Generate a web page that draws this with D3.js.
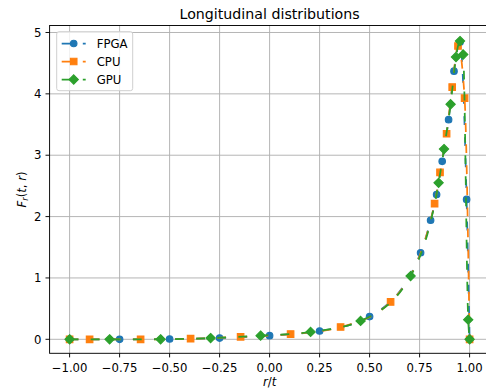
<!DOCTYPE html>
<html>
<head>
<meta charset="utf-8">
<script src="https://cdn.jsdelivr.net/npm/d3@7/dist/d3.min.js"></script>
<style>
  body { margin: 0; background: #fff; }
  svg { display: block; font-family: "DejaVu Sans", sans-serif; }
</style>
</head>
<body>
<div id="chart"></div>
<script>

// tick values
const xTicks = [-1, -0.75, -0.5, -0.25, 0, 0.25, 0.5, 0.75, 1]
const yTicks = [0, 1, 2, 3, 4, 5]

// FPGA series (marker points)
const fpgaR = [-1, -0.75, -0.5, -0.25, 0, 0.25, 0.5, 0.755, 0.805, 0.835, 0.863, 0.895, 0.922, 0.952, 0.985, 1.0]
const fpgaF = [0, 0, 0.005, 0.02, 0.06, 0.135, 0.37, 1.41, 1.94, 2.36, 2.90, 3.58, 4.37, 4.84, 2.28, 0]

// CPU series
const cpuR = [-1, -0.9, -0.645, -0.395, -0.145, 0.105, 0.355, 0.605, 0.825, 0.852, 0.885, 0.913, 0.942, 0.975, 1.0]
const cpuF = [0, 0, 0, 0.01, 0.04, 0.085, 0.2, 0.61, 2.21, 2.72, 3.35, 4.11, 4.78, 3.93, 0]

// GPU series
const gpuR = [-1, -0.8, -0.545, -0.295, -0.045, 0.205, 0.455, 0.705, 0.845, 0.872, 0.905, 0.932, 0.952, 0.968, 0.993, 1.0]
const gpuF = [0, 0, 0, 0.02, 0.06, 0.12, 0.30, 1.03, 2.55, 3.10, 3.83, 4.60, 4.86, 4.64, 0.32, 0]

const seriesNames = ['FPGA', 'CPU', 'GPU']
const seriesColors = ['#1f77b4', '#ff7f0e', '#2ca02c']
const seriesMarkers = ['circle', 'square', 'diamond']


const width = 486, height = 390
const plotLeft = 49.6, plotRight = 489.6, plotTop = 25.5, plotBottom = 353.3

const svg = d3.select('#chart').append('svg')
    .attr('width', width)
    .attr('height', height)

const x = d3.scaleLinear().domain([-1.1, 1.1]).range([plotLeft, plotRight])
const y = d3.scaleLinear().domain([-0.228, 5.114]).range([plotBottom, plotTop])

svg.append('defs').append('clipPath')
    .attr('id', 'plotClip')
    .append('rect')
    .attr('x', plotLeft).attr('y', plotTop)
    .attr('width', plotRight - plotLeft).attr('height', plotBottom - plotTop)

// grid
const grid = svg.append('g')
grid.selectAll('.vgrid')
    .data(xTicks)
    .enter()
    .append('line')
    .attr('x1', d => x(d)).attr('x2', d => x(d))
    .attr('y1', plotTop).attr('y2', plotBottom)
    .attr('stroke', '#b0b0b0')
    .attr('stroke-width', 0.94)

grid.selectAll('.hgrid')
    .data(yTicks)
    .enter()
    .append('line')
    .attr('x1', plotLeft).attr('x2', plotRight)
    .attr('y1', d => y(d)).attr('y2', d => y(d))
    .attr('stroke', '#b0b0b0')
    .attr('stroke-width', 0.94)


function markerPath(type) {
    if (type == 'circle') {
        const r = 3.25
        return `M${r},0A${r},${r} 0 1,1 ${-r},0A${r},${r} 0 1,1 ${r},0Z`
    }
    if (type == 'square') {
        const s = 3.25
        return `M${-s},${-s}H${s}V${s}H${-s}Z`
    }
    const h = 4.6
    return `M0,${-h}L${h},0L0,${h}L${-h},0Z`
}


const line = d3.line()
    .x(d => x(d[0]))
    .y(d => y(d[1]))
    .curve(d3.curveMonotoneX)

const plot = svg.append('g').attr('clip-path', 'url(#plotClip)')

const allSeries = [[fpgaR, fpgaF], [cpuR, cpuF], [gpuR, gpuF]]

allSeries.forEach(function (s, i) {
    const pts = s[0].map((r, j) => [r, s[1][j]])

    plot.append('path')
        .datum(pts)
        .attr('d', line)
        .attr('fill', 'none')
        .attr('stroke', seriesColors[i])
        .attr('stroke-width', 1.75)
        .attr('stroke-dasharray', '8.8,12.3')

    plot.selectAll('.marker' + i)
        .data(pts)
        .enter()
        .append('path')
        .attr('class', 'marker' + i)
        .attr('transform', d => `translate(${x(d[0])},${y(d[1])})`)
        .attr('d', markerPath(seriesMarkers[i]))
        .attr('fill', seriesColors[i])
        .attr('stroke', seriesColors[i])
        .attr('stroke-width', 1.17)
})


// spines
svg.append('rect')
    .attr('x', plotLeft).attr('y', plotTop)
    .attr('width', plotRight - plotLeft).attr('height', plotBottom - plotTop)
    .attr('fill', 'none')
    .attr('stroke', '#000')
    .attr('stroke-width', 0.94)

// x axis ticks
const xAxisG = svg.append('g')
xAxisG.selectAll('line')
    .data(xTicks)
    .enter()
    .append('line')
    .attr('x1', d => x(d)).attr('x2', d => x(d))
    .attr('y1', plotBottom).attr('y2', plotBottom + 4.1)
    .attr('stroke', '#000')
    .attr('stroke-width', 0.94)

xAxisG.selectAll('text')
    .data(xTicks)
    .enter()
    .append('text')
    .attr('x', d => x(d))
    .attr('y', 372.2)
    .attr('text-anchor', 'middle')
    .attr('font-size', 11.7)
    .text(d => d3.format('.2f')(d).replace('-', '\u2212'))

// y axis ticks
const yAxisG = svg.append('g')
yAxisG.selectAll('line')
    .data(yTicks)
    .enter()
    .append('line')
    .attr('x1', plotLeft - 4.1).attr('x2', plotLeft)
    .attr('y1', d => y(d)).attr('y2', d => y(d))
    .attr('stroke', '#000')
    .attr('stroke-width', 0.94)

yAxisG.selectAll('text')
    .data(yTicks)
    .enter()
    .append('text')
    .attr('x', plotLeft - 8.2)
    .attr('y', d => y(d) + 4.25)
    .attr('text-anchor', 'end')
    .attr('font-size', 11.7)
    .text(d => d)

// title
svg.append('text')
    .attr('x', (plotLeft + plotRight) / 2)
    .attr('y', 18.8)
    .attr('text-anchor', 'middle')
    .attr('font-size', 14.2)
    .text('Longitudinal distributions')

// x label  r/t
const xl = svg.append('text')
    .attr('x', (plotLeft + plotRight) / 2)
    .attr('y', 386)
    .attr('text-anchor', 'middle')
    .attr('font-size', 11.7)
xl.append('tspan').attr('font-style', 'italic').text('r')
xl.append('tspan').text('/')
xl.append('tspan').attr('font-style', 'italic').text('t')

// y label  F_r(t, r)
const yl = svg.append('text')
    .attr('transform', `translate(25.5,${(plotTop + plotBottom) / 2}) rotate(-90)`)
    .attr('text-anchor', 'middle')
    .attr('font-size', 11.7)
yl.append('tspan').attr('font-style', 'italic').text('F')
yl.append('tspan').attr('font-style', 'italic').attr('font-size', 8.2).attr('dy', 2.2).text('r')
yl.append('tspan').attr('dy', -2.2).text('(')
yl.append('tspan').attr('font-style', 'italic').text('t')
yl.append('tspan').text(', ')
yl.append('tspan').attr('font-style', 'italic').text('r')
yl.append('tspan').text(')')


// legend
const legend = svg.append('g')
legend.append('rect')
    .attr('x', 56.7).attr('y', 31.7)
    .attr('width', 76).attr('height', 59)
    .attr('rx', 2.3)
    .attr('fill', '#fff')
    .attr('fill-opacity', 0.8)
    .attr('stroke', '#cccccc')
    .attr('stroke-width', 0.94)

seriesNames.forEach(function (name, i) {
    const ly = 43.5 + i * 18
    legend.append('line')
        .attr('x1', 61.7).attr('x2', 85.7)
        .attr('y1', ly).attr('y2', ly)
        .attr('stroke', seriesColors[i])
        .attr('stroke-width', 1.75)
        .attr('stroke-dasharray', '8.8,12.3')
    legend.append('path')
        .attr('transform', `translate(73.7,${ly})`)
        .attr('d', markerPath(seriesMarkers[i]))
        .attr('fill', seriesColors[i])
        .attr('stroke', seriesColors[i])
        .attr('stroke-width', 1.17)
    legend.append('text')
        .attr('x', 96.7)
        .attr('y', ly + 4.2)
        .attr('font-size', 11.7)
        .text(name)
})

</script>
</body>
</html>
